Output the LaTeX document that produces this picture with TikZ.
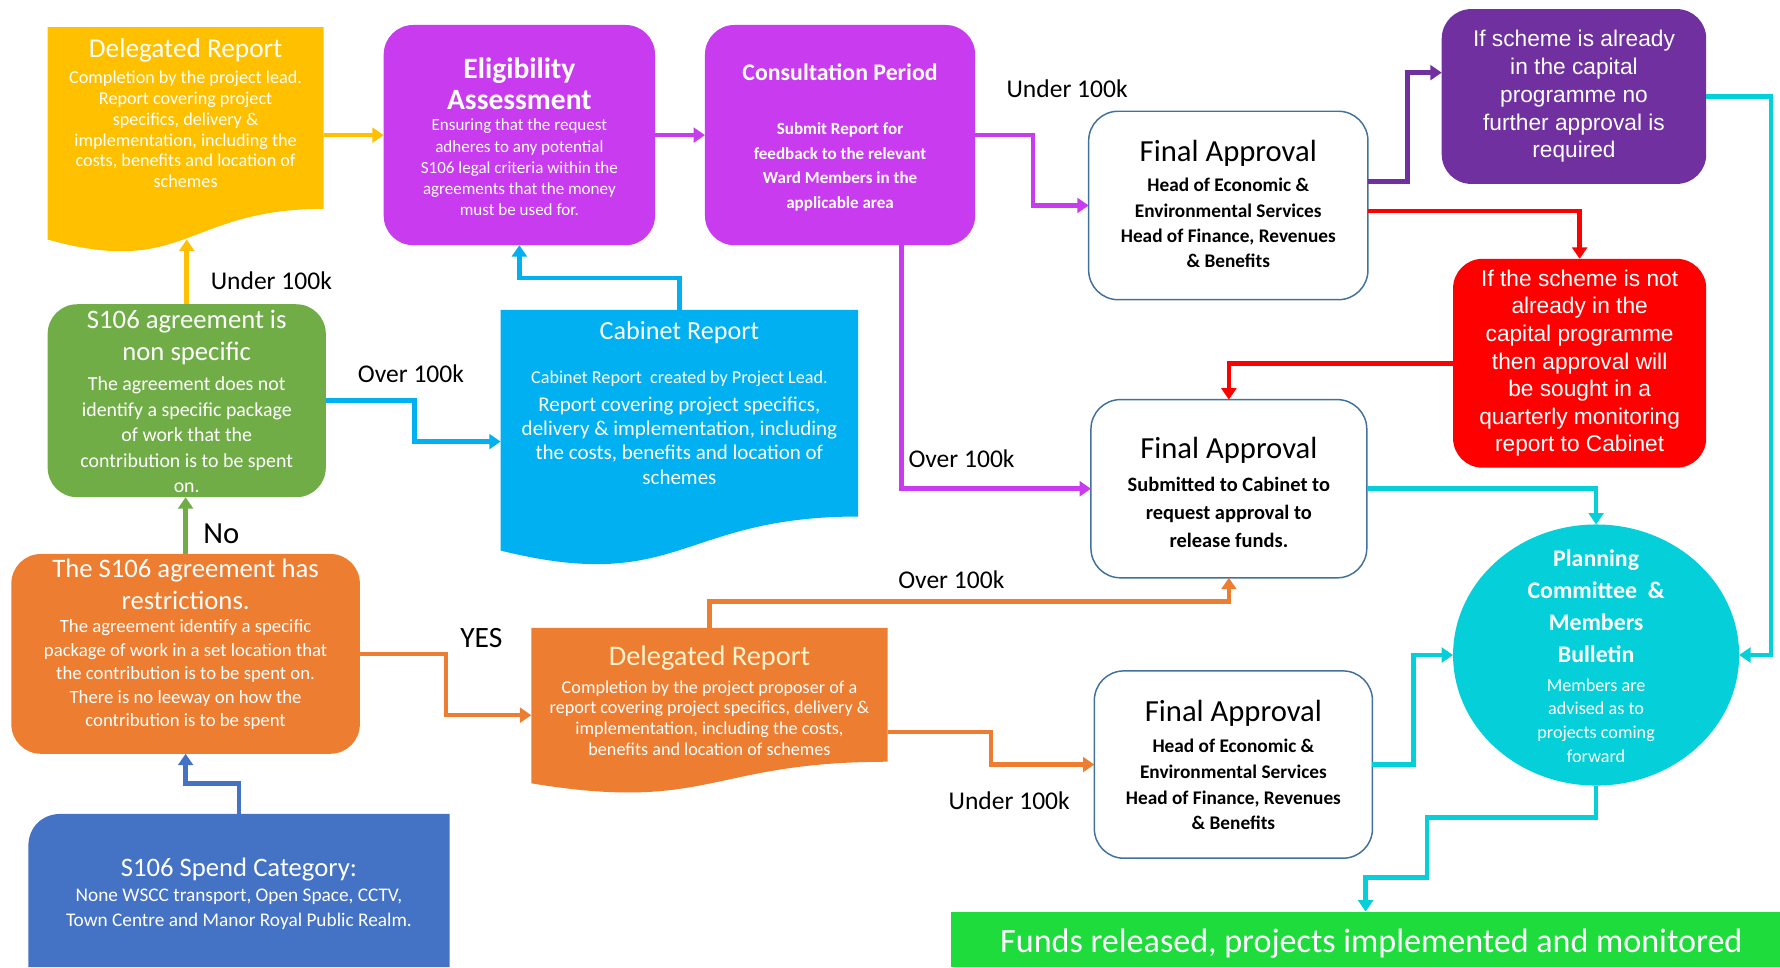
\documentclass[tikz,border=0pt]{standalone}
\usepackage{fontspec}
\setmainfont{Carlito}
\newfontfamily\arialf{Liberation Sans}
\usetikzlibrary{arrows.meta,shapes.geometric,calc}
\definecolor{yelc}{HTML}{FFC000}
\definecolor{magc}{HTML}{C93BEE}
\definecolor{purc}{HTML}{7030A0}
\definecolor{redc}{HTML}{FF0000}
\definecolor{cyac}{HTML}{05D0DA}
\definecolor{cabc}{HTML}{00B0F0}
\definecolor{grnc}{HTML}{70AD47}
\definecolor{orac}{HTML}{ED7D31}
\definecolor{bluc}{HTML}{4472C4}
\definecolor{barc}{HTML}{1EDC3C}
\definecolor{fabd}{HTML}{41719C}
\definecolor{creamc}{HTML}{FFF2CC}
\newcommand{\myfs}[2]{\fontsize{#1}{#2}\selectfont}
\begin{document}
\begin{tikzpicture}[x=1pt,y=-1pt,
  rbox/.style={rectangle, rounded corners=26pt, inner sep=0pt, outer sep=0pt},
  fabox/.style={rbox, draw=fabd, line width=1.3pt, fill=white},
  anc/.style={rectangle, inner sep=0pt, outer sep=0pt},
  wt/.style={align=center, inner sep=0pt, text=white},
  bt/.style={align=center, inner sep=0pt, text=black},
  lbl/.style={inner sep=0pt, text=black, font=\myfs{22.5}{26}},
  conn/.style={line width=4pt, -{Triangle[length=10pt,width=13pt]}}
]
\useasboundingbox (0,0) rectangle (1568,852);

% Yellow delegated report
\fill[yelc] (42,24) -- (285,24) -- (285,184) .. controls (163.5,184) and (163.5,245) .. (42,211) -- cycle;
\node[anc, minimum width=243, minimum height=187] (yel) at (163.5,117.5) {};
\node[wt, font=\myfs{24}{28}] (yelT) at (163.5,44) {Delegated Report};
\node[wt, font=\myfs{16}{18.4}] (yelB) at (163.5,114) {Completion by the project lead.\\Report covering project\\specifics, delivery \&\\implementation, including the\\costs, benefits and location of\\schemes};

% Eligibility
\node[rbox, fill=magc, minimum width=239, minimum height=194] (elig) at (457.5,119) {};
\node[wt, font=\bfseries\myfs{26}{27}] (eligT) at (457.5,73.5) {Eligibility\\Assessment};
\node[wt, font=\myfs{15}{18.75}] (eligB) at (457.5,147.5) {Ensuring that the request\\adheres to any potential\\S106 legal criteria within the\\agreements that the money\\must be used for.};

% Consultation
\node[rbox, fill=magc, minimum width=238, minimum height=194] (cons) at (740,119) {};
\node[wt, font=\bfseries\myfs{21}{24}] (consT) at (740,64) {Consultation Period};
\node[wt, font=\bfseries\myfs{15}{21.7}] (consB) at (740,147) {Submit Report for\\feedback to the relevant\\Ward Members in the\\applicable area};

% Final approval 1
\node[fabox, minimum width=246, minimum height=166] (fa1) at (1082,181) {};
\node[bt, font=\myfs{27}{30}] (fa1T) at (1082,135) {Final Approval};
\node[bt, font=\bfseries\myfs{17}{22.3}] (fa1B) at (1082,196.5) {Head of Economic \&\\Environmental Services\\Head of Finance, Revenues\\\& Benefits};

% Purple
\node[rbox, fill=purc, minimum width=233, minimum height=154] (purp) at (1386.5,85) {};
\node[wt, font=\arialf\myfs{20}{24.5}] (purpT) at (1386.5,85) {If scheme is already\\in the capital\\programme no\\further approval is\\required};

% Red
\node[rbox, fill=redc, minimum width=223, minimum height=184] (red) at (1391.5,320) {};
\node[wt, font=\arialf\myfs{20}{24.3}] (redT) at (1391.5,320) {If the scheme is not\\already in the\\capital programme\\then approval will\\be sought in a\\quarterly monitoring\\report to Cabinet};

% Final approval 2
\node[fabox, minimum width=243, minimum height=157] (fa2) at (1082.5,430.5) {};
\node[bt, font=\myfs{27}{30}] (fa2T) at (1082.5,397) {Final Approval};
\node[bt, font=\bfseries\myfs{18}{24.5}] (fa2B) at (1082.5,451.5) {Submitted to Cabinet to\\request approval to\\release funds.};

% Planning circle
\node[ellipse, fill=cyac, inner sep=0pt, outer sep=0pt, minimum width=252, minimum height=230] (circ) at (1406,577) {};
\node[wt, font=\bfseries\myfs{21}{28.3}] (circT) at (1406,534) {Planning\\Committee\ \ \&\\Members\\Bulletin};
\node[wt, font=\myfs{16}{21}] (circB) at (1406,634.75) {Members are\\advised as to\\projects coming\\forward};

% Green non specific
\node[rbox, fill=grnc, minimum width=245, minimum height=170] (grn) at (164.5,353) {};
\node[wt, font=\myfs{23.5}{28}] (grnT) at (164.5,297) {S106 agreement is\\non specific};
\node[wt, font=\myfs{17.5}{22.5}] (grnB) at (164.5,383) {The agreement does not\\identify a specific package\\of work that the\\contribution is to be spent\\on.};

% Cabinet report
\fill[cabc] (441,273) -- (756,273) -- (756,455) .. controls (598.5,455) and (598.5,524) .. (441,485) -- cycle;
\node[anc, minimum width=315, minimum height=232] (cab) at (598.5,389) {};
\node[wt, font=\myfs{23}{26}] (cabT) at (598.5,293) {Cabinet Report};
\node[wt, font=\myfs{16}{20}] (cabB1) at (598.5,334) {Cabinet Report\ \ created by Project Lead.};
\node[wt, font=\myfs{18.5}{21.5}] (cabB) at (598.5,388) {Report covering project specifics,\\delivery \& implementation, including\\the costs, benefits and location of\\schemes};

% Restrictions
\node[rbox, fill=orac, minimum width=307, minimum height=176] (rest) at (163.5,576) {};
\node[wt, font=\myfs{23.5}{28}] (restT) at (163.5,515) {The S106 agreement has\\restrictions.};
\node[wt, font=\myfs{16.5}{20.75}] (restB) at (163.5,594.5) {The agreement identify a specific\\package of work in a set location that\\the contribution is to be spent on.\\There is no leeway on how the\\contribution is to be spent};

% Orange delegated report
\fill[orac] (468,553) -- (782,553) -- (782,671) .. controls (625,671) and (625,716) .. (468,690) -- cycle;
\node[anc, minimum width=314, minimum height=154] (odoc) at (625,630) {};
\node[wt, text=creamc, font=\myfs{25}{28}] (odocT) at (625,580) {Delegated Report};
\node[wt, font=\myfs{16}{18.3}] (odocB) at (625,632.5) {Completion by the project proposer of a\\report covering project specifics, delivery \&\\implementation, including the costs,\\benefits and location of schemes};

% Final approval 3
\node[fabox, minimum width=245, minimum height=165] (fa3) at (1086.5,673.5) {};
\node[bt, font=\myfs{27}{30}] (fa3T) at (1086.5,628) {Final Approval};
\node[bt, font=\bfseries\myfs{17}{22.7}] (fa3B) at (1086.5,691) {Head of Economic \&\\Environmental Services\\Head of Finance, Revenues\\\& Benefits};

% Spend category
\fill[bluc] (25,852) -- (25,745) .. controls (25,729) and (37,717) .. (53,717) -- (396,717) -- (396,852) -- cycle;
\node[anc, minimum width=371, minimum height=135] (spend) at (210.5,784.5) {};
\node[wt, font=\myfs{23.5}{27}] (spendT) at (210.5,766) {S106 Spend Category:};
\node[wt, font=\myfs{17}{22}] (spendB) at (210.5,801) {None WSCC transport, Open Space, CCTV,\\Town Centre and Manor Royal Public Realm.};

% Bottom bar
\node[rectangle, fill=barc, inner sep=0pt, outer sep=0pt, minimum width=730, minimum height=49, anchor=north west] (bar) at (838,803) {};
\node[wt, font=\myfs{30}{34}] (barT) at (1208,831) {Funds released, projects implemented and monitored};

% Labels
\node[lbl] (l1) at (940,78) {Under 100k};
\node[lbl] (l2) at (239,247) {Under 100k};
\node[lbl] (l3) at (362,329) {Over 100k};
\node[lbl] (l4) at (847,404) {Over 100k};
\node[lbl, font=\myfs{27}{30}] (l5) at (195,470) {No};
\node[lbl, font=\myfs{26}{30}] (l6) at (424,562) {YES};
\node[lbl] (l7) at (838,511) {Over 100k};
\node[lbl] (l8) at (889,705) {Under 100k};

% Connectors
\draw[conn, yelc] (yel.east |- elig.west) -- (elig.west);
\draw[conn, magc] (elig.east) -- (cons.west);
\draw[conn, magc] (cons.east) -- ++(51,0) |- (fa1.west);
\draw[conn, magc] ($(cons.south)+(54,0)$) |- (fa2.west);
\draw[conn, purc] ($(fa1.east)+(0,-21)$) -- ++(35,0) |- ($(purp.west)+(0,-21)$);
\draw[conn, redc] ($(fa1.east)+(0,5)$) -| (red.north);
\draw[conn, redc] (red.west) -| (fa2.north);
\draw[conn, cyac] (purp.east) -- ++(57,0) |- (circ.east);
\draw[conn, cyac] (fa2.east) -| (circ.north);
\draw[conn, cyac] (fa3.east) -- ++(36,0) |- (circ.west);
\draw[conn, cyac] (circ.south) -- ++(0,28) -| ($(bar.north)+(54,-30)$) -| (bar.north);
\draw[conn, yelc] (grn.north) -- (grn.north |- yel.south);
\draw[conn, cabc] (grn.east) -- ++(78,0) |- (cab.west);
\draw[conn, cabc] (cab.north) -- ++(0,-28) -| (elig.south);
\draw[conn, grnc] (rest.north) -- (rest.north |- grn.south);
\draw[conn, orac] (rest.east) -- ++(76,0) |- (odoc.west);
\draw[conn, orac] (odoc.north) -- ++(0,-23) -| (fa2.south);
\draw[conn, orac] ($(odoc.east)+(0,15)$) -- ++(91,0) |- (fa3.west);
\draw[conn, bluc] (spend.north) -- ++(0,-27) -| (rest.south);
\end{tikzpicture}
\end{document}
